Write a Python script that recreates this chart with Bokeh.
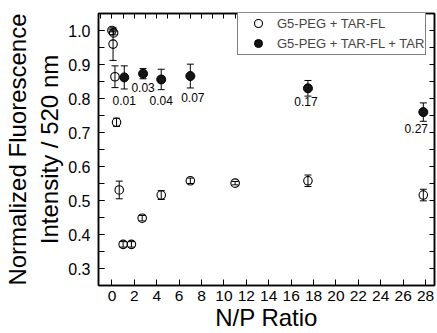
from bokeh.plotting import figure
from bokeh.models import (ColumnDataSource, Whisker, TeeHead, LinearAxis,
                          SingleIntervalTicker, PrintfTickFormatter, Legend, LegendItem)
from bokeh.core.properties import value
from bokeh.embed import file_html
from bokeh.resources import INLINE

# G5-PEG + TAR-FL (open circles)
open_np = [0.0, 0.15, 0.10, 0.27, 0.41, 0.65, 1.0, 1.74, 2.7, 4.4, 7.0, 11.0, 17.5, 27.8]
open_int = [1.000, 0.993, 0.960, 0.864, 0.730, 0.531, 0.371, 0.371, 0.448, 0.516, 0.558, 0.551, 0.558, 0.516]
open_err = [0.004, 0.006, 0.048, 0.032, 0.012, 0.026, 0.008, 0.008, 0.008, 0.013, 0.008, 0.005, 0.017, 0.017]

# G5-PEG + TAR-FL + TAR (filled circles)
fill_np = [1.1, 2.78, 4.4, 7.0, 17.5, 27.8]
fill_int = [0.862, 0.873, 0.856, 0.866, 0.830, 0.760]
fill_err = [0.034, 0.015, 0.030, 0.035, 0.023, 0.027]

# annotation for each filled point
ratio_labels = ["0.01", "0.03", "0.04", "0.07", "0.17", "0.27"]

FONT = "Liberation Sans"
# pixel nudges (dx, dy) for the annotation text, below each error bar
label_nudge = [(0, 12), (0, 9), (0, 11), (2.5, 10), (-2, 5.5), (-7, 7)]

open_src = ColumnDataSource(dict(
    x=open_np, y=open_int,
    lo=[v - e for v, e in zip(open_int, open_err)],
    hi=[v + e for v, e in zip(open_int, open_err)]))
fill_src = ColumnDataSource(dict(
    x=fill_np, y=fill_int,
    lo=[v - e for v, e in zip(fill_int, fill_err)],
    hi=[v + e for v, e in zip(fill_int, fill_err)]))

lab_src = ColumnDataSource(dict(
    x=fill_np,
    y=[v - e for v, e in zip(fill_int, fill_err)],
    text=ratio_labels,
    dx=[d[0] for d in label_nudge],
    dy=[d[1] for d in label_nudge]))

p = figure(width=437, height=333, x_range=(-1.2, 28.8), y_range=(0.25, 1.05),
           output_backend="svg", toolbar_location=None,
           min_border_left=95, min_border_right=3, min_border_top=13, min_border_bottom=45)
p.background_fill_color = "white"
p.border_fill_color = "white"
p.outline_line_color = "black"
p.outline_line_width = 1.5
p.xgrid.visible = False
p.ygrid.visible = False

# bottom axis
xa = p.xaxis[0]
xa.ticker = SingleIntervalTicker(interval=2, num_minor_ticks=0)
xa.major_tick_in = 6
xa.major_tick_out = 0
xa.minor_tick_in = 0
xa.minor_tick_out = 0
xa.axis_line_width = 1.5
xa.major_tick_line_width = 1
xa.major_label_text_font = FONT
xa.major_label_text_font_size = "15.5px"
xa.major_label_text_color = "black"
xa.major_label_standoff = 5
xa.axis_label = "N/P Ratio"
xa.axis_label_text_font = FONT
xa.axis_label_text_font_size = "24px"
xa.axis_label_text_font_style = "normal"
xa.axis_label_text_color = "black"
xa.axis_label_standoff = 0

# left axis
ya = p.yaxis[0]
ya.ticker = SingleIntervalTicker(interval=0.1, num_minor_ticks=2)
ya.formatter = PrintfTickFormatter(format="%.1f")
ya.major_tick_in = 6
ya.major_tick_out = 0
ya.minor_tick_in = 6
ya.minor_tick_out = 0
ya.axis_line_width = 1.5
ya.major_label_text_font = FONT
ya.major_label_text_font_size = "16px"
ya.major_label_text_color = "black"
ya.major_label_standoff = 8
ya.axis_label = "Normalized Fluorescence\nIntensity / 520 nm"
ya.axis_label_text_font = FONT
ya.axis_label_text_font_size = "24px"
ya.axis_label_text_font_style = "normal"
ya.axis_label_text_color = "black"
ya.axis_label_text_line_height = 1.2
ya.axis_label_standoff = 2

# unlabeled top and right axes carrying inward ticks
top = LinearAxis(ticker=SingleIntervalTicker(interval=1, num_minor_ticks=0),
                 major_label_text_font_size="0px", major_label_text_color=None,
                 major_label_standoff=0,
                 major_tick_in=5, major_tick_out=0, minor_tick_in=0, minor_tick_out=0,
                 axis_line_width=1.5)
p.add_layout(top, "above")
right = LinearAxis(ticker=SingleIntervalTicker(interval=0.05, num_minor_ticks=0),
                   major_label_text_font_size="0px", major_label_text_color=None,
                   major_label_standoff=0,
                   major_tick_in=5, major_tick_out=0, minor_tick_in=0, minor_tick_out=0,
                   axis_line_width=1.5)
p.add_layout(right, "right")

# error bars
for src in (fill_src, open_src):
    w = Whisker(source=src, base="x", lower="lo", upper="hi",
                line_color="black", line_width=1,
                lower_head=TeeHead(size=7, line_color="black", line_width=1),
                upper_head=TeeHead(size=7, line_color="black", line_width=1))
    p.add_layout(w)

r_fill = p.scatter("x", "y", source=fill_src, size=9, marker="circle",
                   fill_color="#151515", line_color="black", line_width=1)
r_open = p.scatter("x", "y", source=open_src, size=8.5, marker="circle",
                   fill_alpha=0, line_color="black", line_width=1.1)

p.text("x", "y", text="text", source=lab_src, x_offset="dx", y_offset="dy",
       text_font=value(FONT), text_font_size="12px", text_color="black",
       text_align="center", text_baseline="middle")

legend = Legend(items=[LegendItem(label="G5-PEG + TAR-FL", renderers=[r_open]),
                       LegendItem(label="G5-PEG + TAR-FL + TAR", renderers=[r_fill])],
                location=(139, 230), padding=1, spacing=-6,
                glyph_width=38, glyph_height=20, label_height=14, label_standoff=0,
                label_text_font=FONT, label_text_font_size="13px",
                label_text_line_height=1.0,
                border_line_color="black", border_line_width=1,
                background_fill_color="white", background_fill_alpha=1)
p.add_layout(legend)

open("out.html", "w").write(file_html(p, INLINE))
